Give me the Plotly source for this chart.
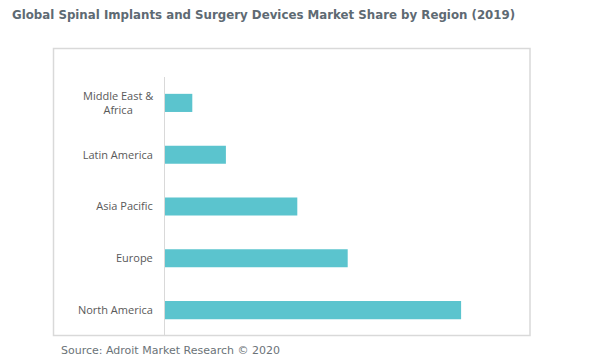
import plotly.graph_objects as go

regions = ["North America", "Europe", "Asia Pacific", "Latin America", "Middle East & Africa"]
tick_labels = ["North America", "Europe", "Asia Pacific", "Latin America", "Middle East &<br>Africa"]
shares = [42.3, 26.1, 18.9, 8.7, 3.9]

title_text = "Global Spinal Implants and Surgery Devices Market Share by Region (2019)"
source_text = "Source: Adroit Market Research © 2020"

OFF = 8  # page body margin offset
W, H = 601, 364
L, R, T, B = 165 - OFF, 86 + OFF, 77 - OFF, 28 + OFF
pw = W - L - R
ph = H - T - B

def px_x(x):
    return (x - OFF - L) / pw

def px_y(y):
    return (H - B - (y - OFF)) / ph

fig = go.Figure(go.Bar(
    x=shares, y=regions, orientation="h",
    marker=dict(color="#5bc4ce", line=dict(width=0)),
    hoverinfo="x+y",
))

# Multi-line label drawn centered (as in the reference); others via axis ticks
axis_ticktext = [t if "<br>" not in t else "" for t in tick_labels]
annotations = [
    dict(text="<b>" + title_text + "</b>", xref="paper", yref="paper", x=px_x(10), y=px_y(15),
         xanchor="left", yanchor="middle", showarrow=False,
         font=dict(family="DejaVu Sans", size=11.8, color="#5e6a73")),
    dict(text=source_text, xref="paper", yref="paper", x=px_x(59), y=px_y(350),
         xanchor="left", yanchor="middle", showarrow=False,
         font=dict(family="DejaVu Sans", size=11, color="#6b7378")),
]
for cat, t in zip(regions, tick_labels):
    if "<br>" in t:
        annotations.append(dict(text=t, xref="paper", yref="y", x=px_x(155), y=cat,
                                xanchor="right", yanchor="middle", align="center", showarrow=False,
                                font=dict(family="Open Sans", size=11, color="#595959")))

fig.update_layout(
    width=W, height=H,
    margin=dict(l=L, r=R, t=T, b=B),
    paper_bgcolor="white", plot_bgcolor="white",
    bargap=0.65,
    showlegend=False,
    xaxis=dict(range=[0, 50], showgrid=False, zeroline=False, showticklabels=False, ticks="", showline=False, fixedrange=True),
    yaxis=dict(showgrid=False, zeroline=False, showline=True, linecolor="#d9d9d9", linewidth=1,
               ticks="", ticklabelstandoff=9, tickmode="array", tickvals=regions, ticktext=axis_ticktext,
               tickfont=dict(family="Open Sans", size=11, color="#595959")),
    shapes=[dict(type="rect", xref="paper", yref="paper",
                 x0=px_x(53.5), x1=px_x(530), y0=px_y(335.5), y1=px_y(48.5),
                 line=dict(color="#d9d9d9", width=1.5), fillcolor="rgba(0,0,0,0)", layer="below")],
    annotations=annotations,
)

fig.write_html("out.html")
